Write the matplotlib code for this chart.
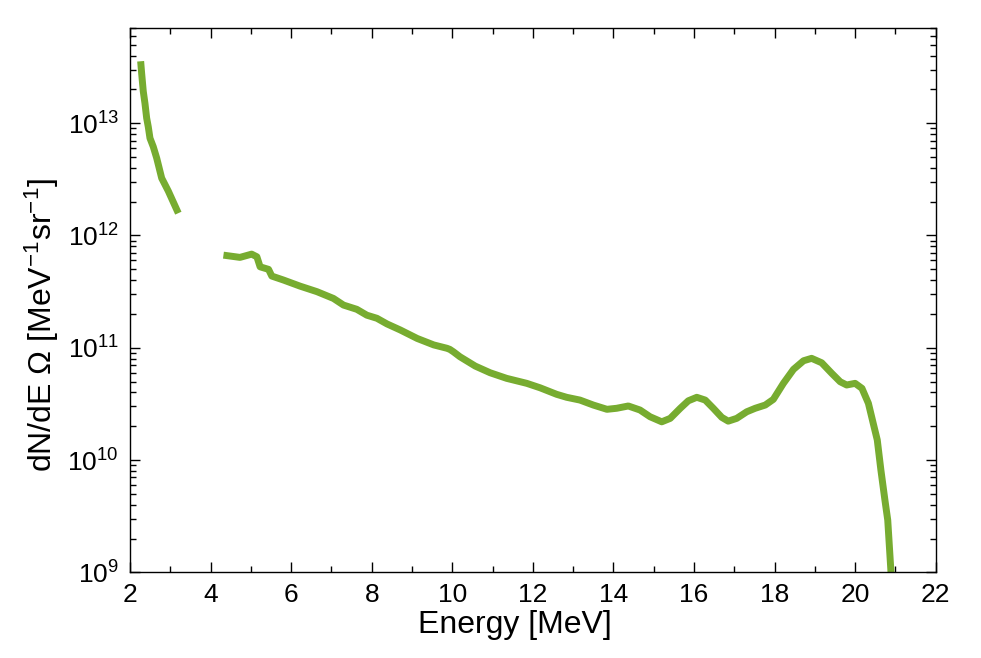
import matplotlib
matplotlib.use("Agg")
import matplotlib.pyplot as plt
from matplotlib.ticker import MultipleLocator, LogLocator

plt.rcParams['font.family'] = ['Liberation Sans', 'DejaVu Sans']
plt.rcParams['mathtext.fontset'] = 'custom'
plt.rcParams['mathtext.rm'] = 'Liberation Sans'
plt.rcParams['mathtext.it'] = 'Liberation Sans:italic'

# Segment 1 (low-energy part)
energy_low = [2.265, 2.29, 2.33, 2.372, 2.414, 2.454, 2.496, 2.578, 2.663, 2.787, 2.95, 3.2]
flux_low = [3.56e13, 2.77e13, 1.92e13, 1.50e13, 1.11e13, 9.29e12, 7.36e12, 6.17e12,
            4.89e12, 3.24e12, 2.49e12, 1.58e12]

# Segment 2 (main spectrum)
energy_main = [4.32, 4.73, 5.02, 5.15, 5.23, 5.44, 5.52, 5.81, 6.22, 6.64, 7.05, 7.30,
               7.63, 7.88, 8.13, 8.38, 8.71, 9.13, 9.54, 9.87, 9.94, 10.03, 10.19,
               10.57, 10.94, 11.35, 11.85, 12.18, 12.59, 12.84, 13.17, 13.50, 13.84,
               14.08, 14.37, 14.66, 14.91, 15.20, 15.41, 15.66, 15.86, 16.07, 16.28,
               16.48, 16.69, 16.85, 17.06, 17.31, 17.52, 17.77, 17.97, 18.22, 18.47,
               18.72, 18.92, 19.17, 19.42, 19.63, 19.79, 20.00, 20.17, 20.33, 20.45,
               20.55, 20.64, 20.74, 20.81, 20.89, 20.92]
flux_main = [6.68e11, 6.38e11, 6.82e11, 6.46e11, 5.26e11, 4.99e11, 4.35e11, 4.01e11,
             3.54e11, 3.16e11, 2.75e11, 2.40e11, 2.20e11, 1.95e11, 1.83e11, 1.63e11,
             1.44e11, 1.21e11, 1.06e11, 9.89e10, 9.67e10, 9.20e10, 8.32e10,
             6.87e10, 5.99e10, 5.34e10, 4.82e10, 4.40e10, 3.85e10, 3.62e10, 3.42e10,
             3.09e10, 2.83e10, 2.89e10, 3.03e10, 2.79e10, 2.43e10, 2.19e10, 2.35e10,
             2.89e10, 3.37e10, 3.62e10, 3.42e10, 2.89e10, 2.40e10, 2.22e10, 2.35e10,
             2.69e10, 2.89e10, 3.09e10, 3.47e10, 4.82e10, 6.42e10, 7.66e10, 8.05e10,
             7.35e10, 5.92e10, 4.98e10, 4.66e10, 4.82e10, 4.35e10, 3.20e10, 2.12e10,
             1.51e10, 8.15e9, 4.40e9, 2.92e9, 1.01e9, 7.0e8]

color = '#77AC30'

fig = plt.figure(figsize=(9.81, 6.58), dpi=100)
ax = fig.add_axes([0.1325, 0.1302, 0.8213, 0.8268])

ax.plot(energy_low, flux_low, color=color, lw=5, solid_capstyle='butt', solid_joinstyle='round')
ax.plot(energy_main, flux_main, color=color, lw=5, solid_capstyle='butt', solid_joinstyle='round')

ax.set_yscale('log')
ax.set_xlim(2, 22)
ax.set_ylim(1e9, 7e13)
ax.xaxis.set_major_locator(MultipleLocator(2))
ax.xaxis.set_minor_locator(MultipleLocator(1))
ax.yaxis.set_major_locator(LogLocator(base=10, numticks=20))
ax.yaxis.set_minor_locator(LogLocator(base=10, subs=range(2, 10), numticks=50))

ax.tick_params(which='both', direction='in', top=True, right=True, width=1)
ax.tick_params(which='major', length=7, labelsize=19, pad=8)
ax.tick_params(which='minor', length=4)
for s in ax.spines.values():
    s.set_linewidth(1)

ax.set_xlabel('Energy [MeV]', fontsize=23)
ax.set_ylabel(r'dN/dE $\Omega$ [MeV$^{-1}$sr$^{-1}$]', fontsize=23)
ax.xaxis.set_label_coords(0.478, -0.07)
ax.yaxis.set_label_coords(-0.085, 0.454)

fig.savefig('out.png', dpi=100)
